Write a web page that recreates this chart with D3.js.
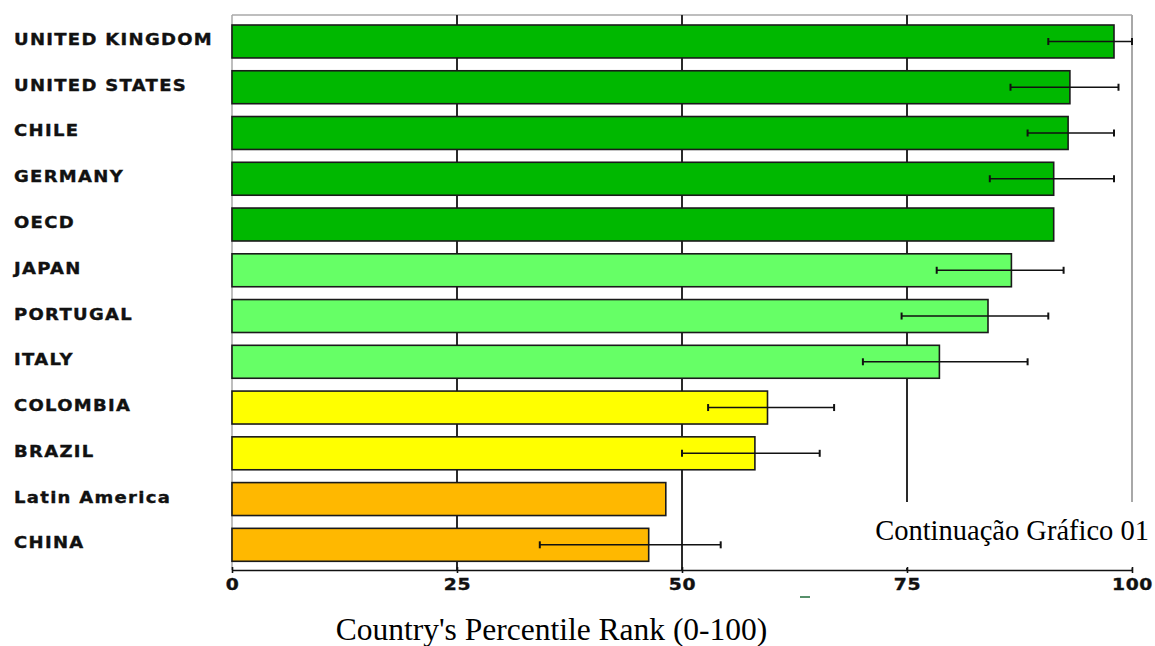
<!DOCTYPE html>
<html>
<head>
<meta charset="utf-8">
<script src="https://cdn.jsdelivr.net/npm/d3@7"></script>
<style>
  html, body { margin: 0; padding: 0; background: #fff; }
  svg { display: block; }
</style>
</head>
<body>
<svg id="chart" width="1155" height="646"></svg>
<script>
// ---- data ----
const categories = ["UNITED KINGDOM", "UNITED STATES", "CHILE", "GERMANY", "OECD", "JAPAN",
                    "PORTUGAL", "ITALY", "COLOMBIA", "BRAZIL", "Latin America", "CHINA"];
const values     = [98.0, 93.1, 92.9, 91.3, 91.3, 86.6, 84.0, 78.6, 59.5, 58.1, 48.2, 46.3];
const errLow     = [90.7, 86.5, 88.4, 84.2, null, 78.3, 74.4, 70.1, 52.9, 50.0, null, 34.2];
const errHigh    = [100.0, 98.5, 98.0, 98.0, null, 92.4, 90.7, 88.4, 66.9, 65.3, null, 54.3];
const groups     = ["top", "top", "top", "top", "top", "upper", "upper", "upper", "mid", "mid", "low", "low"];
const groupColors = { top: "#00b800", upper: "#66ff66", mid: "#ffff00", low: "#ffb800" };
const tickValues = [0, 25, 50, 75, 100];
const axisTitle  = "Country's Percentile Rank (0-100)";
const noteText   = "Continuação Gráfico 01";

// ---- layout ----
const svg = d3.select("#chart");
const plotTop = 15, plotBottom = 570;

const x = d3.scaleLinear().domain([0, 100]).range([232, 1132]);
const y = d3.scaleBand().domain(categories).range([18.6, 567.7])
            .paddingInner(0.28).paddingOuter(0.14);

// frame (top + left grey)
svg.append("line").attr("x1", x(0)).attr("x2", x(100)).attr("y1", plotTop).attr("y2", plotTop)
   .attr("stroke", "#a8a8a8").attr("stroke-width", 1.5);
svg.append("line").attr("x1", x(0)).attr("x2", x(0)).attr("y1", plotTop).attr("y2", plotBottom)
   .attr("stroke", "#a8a8a8").attr("stroke-width", 1.5);

// vertical grid lines
svg.append("g").selectAll("line").data([25, 50, 75, 100]).join("line")
   .attr("x1", d => x(d)).attr("x2", d => x(d))
   .attr("y1", plotTop).attr("y2", plotBottom)
   .attr("stroke", d => d === 100 ? "#a8a8a8" : "#2a2a2a")
   .attr("stroke-width", 2);

// bars
svg.append("g").selectAll("rect").data(categories).join("rect")
   .attr("x", x(0))
   .attr("y", d => y(d))
   .attr("width", (d, i) => x(values[i]) - x(0))
   .attr("height", y.bandwidth())
   .attr("fill", (d, i) => groupColors[groups[i]])
   .attr("stroke", "#1a1a1a").attr("stroke-width", 1.6);

// error bars
const errIdx = categories.map((c, i) => i).filter(i => errLow[i] !== null);
const eg = svg.append("g").attr("stroke", "#111").attr("stroke-width", 1.4);
eg.selectAll("line.h").data(errIdx).join("line").attr("class", "h")
  .attr("x1", i => x(errLow[i])).attr("x2", i => x(errHigh[i]))
  .attr("y1", i => y(categories[i]) + y.bandwidth() / 2)
  .attr("y2", i => y(categories[i]) + y.bandwidth() / 2);
eg.selectAll("line.l").data(errIdx).join("line").attr("class", "l")
  .attr("stroke-width", 2)
  .attr("x1", i => x(errLow[i])).attr("x2", i => x(errLow[i]))
  .attr("y1", i => y(categories[i]) + y.bandwidth() / 2 - 3.5)
  .attr("y2", i => y(categories[i]) + y.bandwidth() / 2 + 3.5);
eg.selectAll("line.r").data(errIdx).join("line").attr("class", "r")
  .attr("stroke-width", 2)
  .attr("x1", i => x(errHigh[i])).attr("x2", i => x(errHigh[i]))
  .attr("y1", i => y(categories[i]) + y.bandwidth() / 2 - 3.5)
  .attr("y2", i => y(categories[i]) + y.bandwidth() / 2 + 3.5);

// category labels
svg.append("g").selectAll("g").data(categories).join("g")
   .attr("transform", d => `translate(14, ${y(d) + y.bandwidth() / 2 - 1.5})`)
   .append("text")
   .attr("transform", "scale(1.2,1)")
   .attr("dominant-baseline", "central")
   .attr("font-family", "DejaVu Sans, sans-serif")
   .attr("font-weight", "bold")
   .attr("font-size", 15)
   .attr("letter-spacing", 1.1)
   .attr("fill", "#111")
   .attr("stroke", "#111").attr("stroke-width", 0.35)
   .text(d => d);

// note box
svg.append("rect").attr("x", 855).attr("y", 502).attr("width", 300).attr("height", 66)
   .attr("fill", "#fff");
svg.append("text").attr("x", 1149).attr("y", 540)
   .attr("text-anchor", "end")
   .attr("font-family", "Liberation Serif, Times New Roman, serif")
   .attr("font-size", 28.5).attr("fill", "#000")
   .text(noteText);

// x axis
const xAxis = d3.axisBottom(x).tickValues(tickValues).tickSizeInner(3).tickSizeOuter(0).tickPadding(6);
const ax = svg.append("g").attr("transform", `translate(0, ${plotBottom})`).call(xAxis);
ax.select(".domain").attr("stroke", "#111").attr("stroke-width", 1.6);
ax.selectAll(".tick line").attr("y1", -3).attr("y2", 3).attr("stroke", "#111").attr("stroke-width", 1.6);
ax.selectAll(".tick text")
  .attr("transform", "scale(1.25,1)")
  .attr("font-family", "DejaVu Sans, sans-serif")
  .attr("font-weight", "bold")
  .attr("font-size", 15)
  .attr("letter-spacing", 0.5)
  .attr("fill", "#111")
  .attr("stroke", "#111").attr("stroke-width", 0.35);

// small artifact dash below axis
svg.append("line").attr("x1", 800).attr("x2", 810).attr("y1", 597).attr("y2", 597)
   .attr("stroke", "#1f6b3a").attr("stroke-width", 1.5);

// axis title
svg.append("text").attr("x", 551.5).attr("y", 640)
   .attr("text-anchor", "middle")
   .attr("font-family", "Liberation Serif, Times New Roman, serif")
   .attr("font-size", 31.5).attr("fill", "#000")
   .text(axisTitle);
</script>
</body>
</html>
